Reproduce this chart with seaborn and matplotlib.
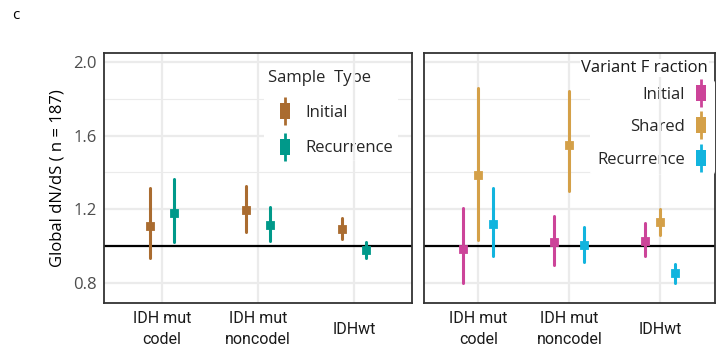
import numpy as np
import pandas as pd
import matplotlib
matplotlib.use("Agg")
import matplotlib.pyplot as plt
from matplotlib.lines import Line2D
import seaborn as sns

# ---------------- data ----------------
subtypes = ["IDH mut\ncodel", "IDH mut\nnoncodel", "IDHwt"]

# Left panel: Sample Type
sample_types = ["Initial", "Recurrence"]
st_mid = {"Initial": [1.109, 1.194, 1.092], "Recurrence": [1.180, 1.116, 0.978]}
st_low = {"Initial": [0.936, 1.076, 1.040], "Recurrence": [1.021, 1.027, 0.936]}
st_high = {"Initial": [1.314, 1.327, 1.151], "Recurrence": [1.364, 1.211, 1.021]}

# Right panel: Variant Fraction
fractions = ["Initial", "Shared", "Recurrence"]
vf_mid = {"Initial": [0.982, 1.023, 1.029], "Shared": [1.387, 1.549, 1.129], "Recurrence": [1.118, 1.005, 0.851]}
vf_low = {"Initial": [0.800, 0.896, 0.943], "Shared": [1.031, 1.298, 1.058], "Recurrence": [0.945, 0.914, 0.800]}
vf_high = {"Initial": [1.209, 1.163, 1.123], "Shared": [1.860, 1.845, 1.201], "Recurrence": [1.318, 1.103, 0.904]}

yticks = [0.8, 1.2, 1.6, 2.0]
ylabel = "Global dN/dS ( n = 187)"

st_colors = {"Initial": "#AA6C30", "Recurrence": "#00998A"}
vf_colors = {"Initial": "#CC4499", "Shared": "#D4A048", "Recurrence": "#12B4DE"}


def long_frame(levels, mid, low, high, hue_name):
    rows = []
    for lv in levels:
        for i, s in enumerate(subtypes):
            for v in (low[lv][i], mid[lv][i], high[lv][i]):
                rows.append({"subtype": s, hue_name: lv, "value": v})
    return pd.DataFrame(rows)


df_st = long_frame(sample_types, st_mid, st_low, st_high, "Sample Type")
df_vf = long_frame(fractions, vf_mid, vf_low, vf_high, "Variant Fraction")

# ---------------- style ----------------
sns.set_theme(style="white")
FONT = ["Open Sans", "DejaVu Sans"]
plt.rcParams["font.family"] = FONT
NARROW = ["Roboto", "DejaVu Sans"]
GRID = "#EBEBEB"

fig = plt.figure(figsize=(7.17, 3.61), dpi=100)
ax1 = fig.add_axes([0.145, 0.1607, 0.4296, 0.6925])
ax2 = fig.add_axes([0.591, 0.1607, 0.4059, 0.6925])


def style_axes(ax, show_labels):
    ax.set_xlim(-0.6, 2.6)
    ax.set_ylim(0.69, 2.05)
    ax.set_yticks(yticks)
    ax.set_yticks([1.0, 1.4, 1.8], minor=True)
    ax.grid(True, which="major", color=GRID, linewidth=1.6, zorder=0)
    ax.grid(True, which="minor", axis="y", color=GRID, linewidth=0.8, zorder=0)
    ax.set_axisbelow(True)
    for sp in ax.spines.values():
        sp.set_color("#333333")
        sp.set_linewidth(1.3)
    ax.tick_params(axis="y", which="major", length=3, width=0.9, color="#333333",
                   labelsize=12, pad=2, labelcolor="#4D4D4D")
    ax.tick_params(axis="x", which="major", length=3, width=0.9, color="#333333",
                   labelsize=11.5, pad=16, labelcolor="#1A1A1A")
    ax.tick_params(axis="y", which="minor", length=0)
    for lab in ax.get_xticklabels():
        lab.set_family(NARROW)
        lab.set_verticalalignment("center")
        lab.set_linespacing(1.5)
    if not show_labels:
        ax.set_yticklabels([])
    ax.set_xlabel("")
    ax.axhline(1.0, color="black", linewidth=1.6, zorder=2)


sns.pointplot(data=df_st, x="subtype", y="value", hue="Sample Type", order=subtypes,
              hue_order=sample_types, palette=st_colors, estimator="median",
              errorbar=("pi", 100), dodge=0.25, marker="s", markersize=4.8,
              linestyle="none", err_kws={"linewidth": 2.2}, ax=ax1, legend=False, zorder=3)
sns.pointplot(data=df_vf, x="subtype", y="value", hue="Variant Fraction", order=subtypes,
              hue_order=fractions, palette=vf_colors, estimator="median",
              errorbar=("pi", 100), dodge=0.33, marker="s", markersize=4.8,
              linestyle="none", err_kws={"linewidth": 2.2}, ax=ax2, legend=False, zorder=3)

style_axes(ax1, True)
style_axes(ax2, False)
ax1.set_ylabel(ylabel, fontsize=12, color="black", labelpad=6)
ax2.set_ylabel("")

RECT = [(-0.32, -0.5), (0.32, -0.5), (0.32, 0.5), (-0.32, 0.5), (-0.32, -0.5)]


def make_handles(levels, colors):
    hs = []
    for lv in levels:
        c = colors[lv]
        hs.append((Line2D([], [], marker="|", markersize=20, mew=2.0, color=c, linestyle="none"),
                   Line2D([], [], marker=RECT, markersize=11, color=c, mew=0, linestyle="none")))
    return hs


leg1 = ax1.legend(make_handles(sample_types, st_colors), sample_types, title="Sample  Type",
                  loc="upper left", bbox_to_anchor=(0.52, 0.948), frameon=True,
                  facecolor="white", edgecolor="none", framealpha=1,
                  fontsize=12, title_fontsize=12, labelspacing=1.15,
                  handlelength=2.0, handletextpad=0.25, borderpad=0.25,
                  borderaxespad=0)
leg1._legend_box.align = "left"
leg1.set_zorder(5)

leg2 = ax2.legend(make_handles(fractions, vf_colors), fractions,
                  loc="upper right", bbox_to_anchor=(1.0, 0.892), frameon=True,
                  facecolor="white", edgecolor="none", framealpha=1,
                  fontsize=12, labelspacing=1.0,
                  handlelength=0.8, handletextpad=0.6, borderpad=0.4,
                  borderaxespad=0, markerfirst=False)
leg2.set_zorder(5)
ax2.text(0.976, 0.94, "Variant F raction", transform=ax2.transAxes, ha="right",
         va="center", fontsize=12, color="#1A1A1A", zorder=7,
         bbox=dict(facecolor="white", edgecolor="none", pad=1.0))

# the last category grid line shows through the legend box (clipped to the box)
for ax, leg in ((ax1, leg1), (ax2, leg2)):
    vl = ax.axvline(ax.get_xticks()[-1], color=GRID, linewidth=1.6, zorder=6)
    vl.set_clip_path(leg.legendPatch)

fig.text(0.017, 0.958, "c", fontsize=11, color="black", ha="left", va="center")

fig.savefig("out.png", dpi=100)
